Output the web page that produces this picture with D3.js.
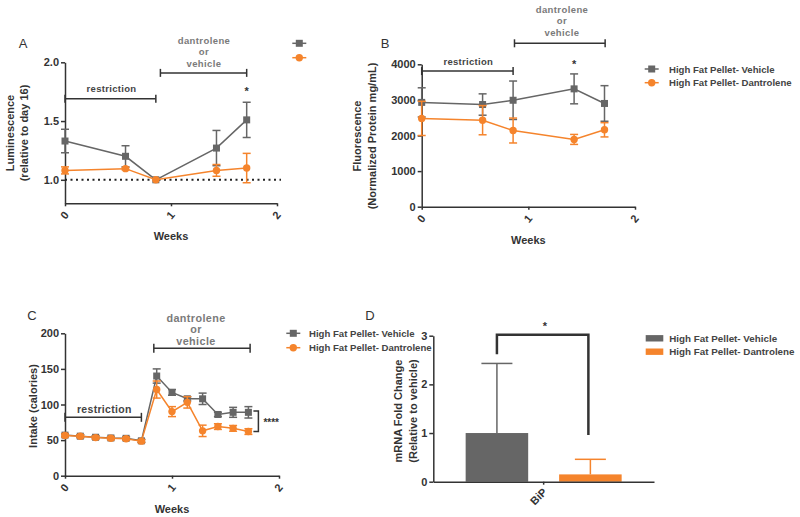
<!DOCTYPE html>
<html><head><meta charset="utf-8">
<script src="https://cdn.jsdelivr.net/npm/d3@7"></script>
<style>body{margin:0;background:#fff} text{font-family:"Liberation Sans",Arial,sans-serif}</style>
</head><body><svg id="c" width="800" height="517"></svg>
<script>
// ---------- DATA ----------
const weeksAB = [0, 0.571, 0.857, 1.429, 1.714];
const lumVehicle = [1.33, 1.20, 1.00, 1.27, 1.51];
const lumVehicleErr = [0.10, 0.09, 0, 0.15, 0.15];
const lumDantrolene = [1.08, 1.095, 1.00, 1.08, 1.10];
const lumDantroleneErr = [0.03, 0.01, 0, 0.05, 0.125];

const fluVehicle = [2930, 2870, 2990, 3310, 2900];
const fluVehicleErr = [410, 300, 540, 420, 500];
const fluDantrolene = [2480, 2430, 2140, 1890, 2160];
const fluDantroleneErr = [480, 410, 350, 140, 200];

const weeksC = [0, 0.143, 0.286, 0.429, 0.571, 0.714, 0.857, 1.0, 1.143, 1.286, 1.429, 1.571, 1.714];
const intakeVehicle = [57, 55.5, 54, 53, 52.5, 49, 140, 117, 108, 108, 86, 89, 89];
const intakeVehicleErr = [2, 2, 2, 2, 2, 2, 10, 4, 3, 8, 3, 7, 8];
const intakeDantrolene = [56.5, 55.5, 53.5, 52.5, 52, 48.5, 121, 90, 103, 63, 69, 66.5, 62];
const intakeDantroleneErr = [2, 2, 2, 2, 2, 2, 12, 7, 8, 8, 4, 4, 4];

const genes = ['BiP'];
const groupsD = ['High Fat Pellet- Vehicle', 'High Fat Pellet- Dantrolene'];
const bipMean = [1.0, 0.15];
const bipErr = [1.43, 0.31];

const seriesNames = ['High Fat Pellet- Vehicle', 'High Fat Pellet- Dantrolene'];
const xTicks = [0, 1, 2];

// ---------- STYLE ----------
const svg = d3.select('#c');
const VEH = '#666666', DAN = '#f5842c', AX = '#333333', GRAYTXT = '#7a7a7a';

function yAxisTitle(lines, xs, cy) {
  lines.forEach((t, i) => {
    svg.append('text').attr('transform', `translate(${xs[i]},${cy}) rotate(-90)`)
      .attr('text-anchor', 'middle').attr('font-size', 11).attr('font-weight', 'bold')
      .attr('fill', AX).text(t);
  });
}
function panelLetter(t, x, y) {
  svg.append('text').attr('x', x).attr('y', y).attr('text-anchor', 'middle')
    .attr('font-size', 13).attr('fill', '#333').text(t);
}
function styleAxis(g) {
  g.select('.domain').attr('stroke', AX).attr('stroke-width', 1.5);
  g.selectAll('.tick line').attr('stroke', AX).attr('stroke-width', 1.5);
  g.selectAll('text').attr('font-size', 11).attr('font-weight', 'bold').attr('fill', AX)
    .attr('font-family', '"Liberation Sans",Arial,sans-serif');
}
function bracket(x, y, xa, xb, h) {
  const g = svg.append('g').attr('stroke', AX).attr('stroke-width', 1.5).attr('fill', 'none');
  g.append('line').attr('x1', x(xa)).attr('x2', x(xb)).attr('y1', y).attr('y2', y);
  g.append('line').attr('x1', x(xa)).attr('x2', x(xa)).attr('y1', y - h).attr('y2', y + h);
  g.append('line').attr('x1', x(xb)).attr('x2', x(xb)).attr('y1', y - h).attr('y2', y + h);
}
function treatText(cx, y0, dy, fs) {
  ['dantrolene', 'or', 'vehicle'].forEach((t, i) => {
    svg.append('text').attr('x', cx).attr('y', y0 + i * dy).attr('text-anchor', 'middle')
      .attr('font-size', fs).attr('font-weight', 'bold').attr('fill', GRAYTXT)
      .attr('letter-spacing', 0.4).text(t);
  });
}
function series(g, x, y, xs, vals, errs, color, shape) {
  const cap = 4;
  const eb = g.append('g').attr('stroke', color).attr('stroke-width', 1.5);
  xs.forEach((xv, i) => {
    if (!errs[i]) return;
    const px = x(xv), t = y(vals[i] + errs[i]), b = y(vals[i] - errs[i]);
    eb.append('line').attr('x1', px).attr('x2', px).attr('y1', t).attr('y2', b);
    eb.append('line').attr('x1', px - cap).attr('x2', px + cap).attr('y1', t).attr('y2', t);
    eb.append('line').attr('x1', px - cap).attr('x2', px + cap).attr('y1', b).attr('y2', b);
  });
  const pts = xs.map((xv, i) => [xv, vals[i]]);
  g.append('path').datum(pts).attr('fill', 'none').attr('stroke', color).attr('stroke-width', 1.5)
    .attr('d', d3.line().x(d => x(d[0])).y(d => y(d[1])));
  if (shape === 'square') {
    g.selectAll(null).data(pts).enter().append('rect')
      .attr('x', d => x(d[0]) - 3.5).attr('y', d => y(d[1]) - 3.5).attr('width', 7).attr('height', 7)
      .attr('fill', color);
  } else {
    g.selectAll(null).data(pts).enter().append('circle')
      .attr('cx', d => x(d[0])).attr('cy', d => y(d[1])).attr('r', 3.7).attr('fill', color);
  }
}
function legendMarker(x, y, color, shape) {
  svg.append('line').attr('x1', x - 7).attr('x2', x + 7).attr('y1', y).attr('y2', y)
    .attr('stroke', color).attr('stroke-width', 1.5);
  if (shape === 'square') svg.append('rect').attr('x', x - 3.5).attr('y', y - 3.5).attr('width', 7).attr('height', 7).attr('fill', color);
  else svg.append('circle').attr('cx', x).attr('cy', y).attr('r', 3.7).attr('fill', color);
}
function legendText(x, y, t) {
  svg.append('text').attr('x', x).attr('y', y + 3.5).attr('font-size', 9.6).attr('font-weight', 'bold')
    .attr('fill', '#444').text(t);
}
function linePanel(o) {
  const x = d3.scaleLinear().domain([0, 2]).range([o.x0, o.x1]);
  const y = d3.scaleLinear().domain(o.yDomain).range([o.yB, o.yT]);
  const gx = svg.append('g').attr('transform', `translate(0,${o.yB})`)
    .call(d3.axisBottom(x).tickValues(xTicks).tickSize(3).tickSizeOuter(0).tickFormat(d3.format('d')));
  styleAxis(gx);
  gx.selectAll('text').attr('text-anchor', 'end').attr('dy', null).attr('y', null)
    .attr('transform', 'translate(4,12) rotate(-50)');
  const gy = svg.append('g').attr('transform', `translate(${o.x0},0)`)
    .call(d3.axisLeft(y).tickValues(o.yTicks).tickSize(4).tickPadding(2).tickSizeOuter(0).tickFormat(o.fmt));
  styleAxis(gy);
  svg.append('text').attr('x', (o.x0 + o.x1) / 2).attr('y', o.yB + 37).attr('text-anchor', 'middle')
    .attr('font-size', 11).attr('font-weight', 'bold').attr('fill', AX).text('Weeks');
  return { x, y };
}

// ---------- PANEL A ----------
{
  const { x, y } = linePanel({ x0: 65, x1: 277, yB: 203.3, yT: 62.3, yDomain: [0.8, 2.0], yTicks: [1.0, 1.5, 2.0], fmt: d3.format('.1f') });
  svg.append('line').attr('x1', x(0)).attr('x2', x(2) + 4).attr('y1', y(1)).attr('y2', y(1))
    .attr('stroke', '#222').attr('stroke-width', 2).attr('stroke-dasharray', '2,3.5');
  const g = svg.append('g');
  series(g, x, y, weeksAB, lumVehicle, lumVehicleErr, VEH, 'square');
  series(g, x, y, weeksAB, lumDantrolene, lumDantroleneErr, DAN, 'circle');
  bracket(x, y(1.69), 0, 0.857, 4);
  bracket(x, y(1.91), 0.9, 1.714, 4);
  svg.append('text').attr('x', 111.5).attr('y', 92).attr('text-anchor', 'middle').attr('font-size', 9.5)
    .attr('font-weight', 'bold').attr('fill', '#444').attr('letter-spacing', 0.3).text('restriction');
  treatText(204, 43.5, 11.5, 9.5);
  svg.append('text').attr('x', x(1.714)).attr('y', y(1.66) - 7).attr('text-anchor', 'middle')
    .attr('font-size', 11).attr('font-weight', 'bold').attr('fill', AX).text('*');
  yAxisTitle(['Luminescence', '(relative to day 16)'], [14, 27.5], 133);
  panelLetter('A', 23, 48);
  legendMarker(299.3, 43.3, VEH, 'square');
  legendMarker(299.3, 57.7, DAN, 'circle');
}

// ---------- PANEL B ----------
{
  const { x, y } = linePanel({ x0: 421.7, x1: 635, yB: 206.7, yT: 64.3, yDomain: [0, 4000], yTicks: [0, 1000, 2000, 3000, 4000], fmt: d3.format('d') });
  const g = svg.append('g');
  series(g, x, y, weeksAB, fluVehicle, fluVehicleErr, VEH, 'square');
  series(g, x, y, weeksAB, fluDantrolene, fluDantroleneErr, DAN, 'circle');
  bracket(x, y(3810), 0, 0.857, 4);
  bracket(x, y(4590), 0.87, 1.72, 4);
  svg.append('text').attr('x', 468.3).attr('y', 64.5).attr('text-anchor', 'middle').attr('font-size', 9.5)
    .attr('font-weight', 'bold').attr('fill', '#444').attr('letter-spacing', 0.3).text('restriction');
  treatText(562, 12.5, 11.5, 9.5);
  svg.append('text').attr('x', x(1.429)).attr('y', y(3730) - 6).attr('text-anchor', 'middle')
    .attr('font-size', 11).attr('font-weight', 'bold').attr('fill', AX).text('*');
  yAxisTitle(['Fluorescence', '(Normalized Protein mg/mL)'], [361, 375.5], 136);
  panelLetter('B', 385, 48);
  legendMarker(651.7, 69, VEH, 'square');
  legendMarker(651.7, 82.7, DAN, 'circle');
  legendText(669, 69, seriesNames[0]);
  legendText(669, 82.7, seriesNames[1]);
}

// ---------- PANEL C ----------
{
  const { x, y } = linePanel({ x0: 65, x1: 279, yB: 475.7, yT: 333.3, yDomain: [0, 200], yTicks: [0, 50, 100, 150, 200], fmt: d3.format('d') });
  const g = svg.append('g');
  series(g, x, y, weeksC, intakeVehicle, intakeVehicleErr, VEH, 'square');
  series(g, x, y, weeksC, intakeDantrolene, intakeDantroleneErr, DAN, 'circle');
  bracket(x, y(82), 0, 0.714, 4.5);
  bracket(x, y(179), 0.83, 1.73, 4.5);
  svg.append('text').attr('x', 104.3).attr('y', 412.5).attr('text-anchor', 'middle').attr('font-size', 10.5)
    .attr('font-weight', 'bold').attr('fill', '#444').attr('letter-spacing', 0.3).text('restriction');
  treatText(196, 321.5, 11.7, 10.8);
  // significance bracket
  const bx = x(1.714) + 10;
  const sb = svg.append('g').attr('stroke', AX).attr('stroke-width', 1.5).attr('fill', 'none');
  sb.append('path').attr('d', `M${bx - 5},${y(91)}H${bx}V${y(62)}H${bx - 5}`);
  svg.append('text').attr('x', bx + 5).attr('y', (y(91) + y(62)) / 2 + 5).attr('font-size', 10)
    .attr('font-weight', 'bold').attr('fill', AX).text('****');
  yAxisTitle(['Intake (calories)'], [37], 406);
  panelLetter('C', 32, 320);
  legendMarker(293.3, 333.3, VEH, 'square');
  legendMarker(293.3, 347.7, DAN, 'circle');
  legendText(309, 333.3, seriesNames[0]);
  legendText(309, 347.7, seriesNames[1]);
}

// ---------- PANEL D ----------
{
  const x = d3.scaleBand().domain(genes).range([433.3, 654]);
  const xs = d3.scaleBand().domain(groupsD).range([-78, 78]).paddingInner(0.331);
  const y = d3.scaleLinear().domain([0, 3]).range([481.7, 335.7]);
  const colors = [VEH, DAN];
  const gx = svg.append('g').attr('transform', 'translate(0,481.7)')
    .call(d3.axisBottom(x).tickSize(3).tickSizeOuter(0));
  styleAxis(gx);
  gx.selectAll('text').attr('text-anchor', 'end').attr('dy', null).attr('y', null)
    .attr('transform', 'translate(4,11) rotate(-45)');
  const gy = svg.append('g').attr('transform', 'translate(433.3,0)')
    .call(d3.axisLeft(y).tickValues([0, 1, 2, 3]).tickSize(4).tickPadding(2).tickSizeOuter(0).tickFormat(d3.format('d')));
  styleAxis(gy);
  const cx = x('BiP') + x.bandwidth() / 2;
  groupsD.forEach((gname, i) => {
    const left = cx + xs(gname), w = xs.bandwidth(), mid = left + w / 2;
    const top = y(bipMean[i] + bipErr[i]);
    svg.append('line').attr('x1', mid).attr('x2', mid).attr('y1', y(bipMean[i])).attr('y2', top)
      .attr('stroke', colors[i]).attr('stroke-width', 1.5);
    svg.append('line').attr('x1', mid - 15.5).attr('x2', mid + 15.5).attr('y1', top).attr('y2', top)
      .attr('stroke', colors[i]).attr('stroke-width', 1.5);
    svg.append('rect').attr('x', left).attr('y', y(bipMean[i])).attr('width', w)
      .attr('height', y(0) - y(bipMean[i])).attr('fill', colors[i]);
  });
  // re-draw x-axis domain on top
  gx.raise();
  const lx = cx + xs(groupsD[0]) + xs.bandwidth() / 2;
  const rx = cx + xs(groupsD[1]) + xs.bandwidth() / 2 - 2;
  svg.append('path').attr('d', `M${lx},${y(2.62)}V${y(3.02)}H${rx}V${y(0.96)}`)
    .attr('fill', 'none').attr('stroke', AX).attr('stroke-width', 2.5);
  svg.append('text').attr('x', 545).attr('y', 330).attr('text-anchor', 'middle')
    .attr('font-size', 11).attr('font-weight', 'bold').attr('fill', AX).text('*');
  yAxisTitle(['mRNA Fold Change', '(Relative to vehicle)'], [402, 416.5], 411);
  panelLetter('D', 370, 320);
  groupsD.forEach((gname, i) => {
    const ly = [338.3, 351.7][i];
    svg.append('rect').attr('x', 645.7).attr('y', ly - 3.2).attr('width', 17.6).attr('height', 6.4).attr('fill', colors[i]);
    svg.append('text').attr('x', 669.3).attr('y', ly + 3.5).attr('font-size', 9.8).attr('font-weight', 'bold')
      .attr('fill', '#444').text(gname);
  });
}
</script></body></html>
